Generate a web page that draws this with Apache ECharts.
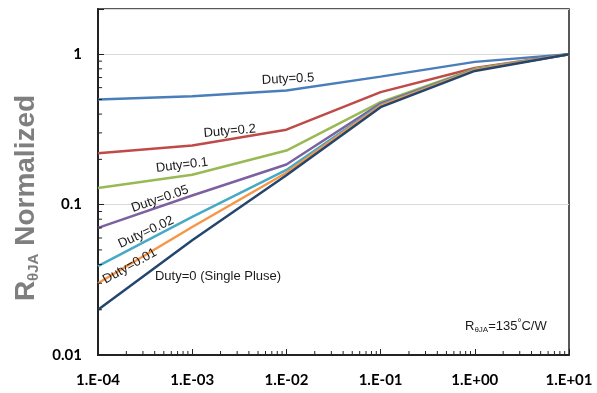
<!DOCTYPE html>
<html>
<head>
<meta charset="utf-8">
<script src="https://cdn.jsdelivr.net/npm/echarts@6/dist/echarts.min.js"></script>
<style>
  html, body { margin: 0; padding: 0; background: #ffffff; }
  #chart { width: 597px; height: 393px; }
</style>
</head>
<body>
<div id="chart"></div>
<script>
// Pulse width (s), one point per decade
const pulseWidth = [1e-4, 1e-3, 1e-2, 1e-1, 1, 10];

// Normalized transient thermal resistance for each duty cycle
const duty050 = [0.50, 0.525, 0.575, 0.71, 0.89, 1.0];
const duty020 = [0.22, 0.247, 0.315, 0.56, 0.81, 1.0];
const duty010 = [0.129, 0.158, 0.229, 0.48, 0.80, 1.0];
const duty005 = [0.070, 0.115, 0.185, 0.47, 0.79, 1.0];
const duty002 = [0.039, 0.083, 0.170, 0.46, 0.79, 1.0];
const duty001 = [0.030, 0.071, 0.163, 0.455, 0.785, 1.0];
const singlePulse = [0.020, 0.058, 0.157, 0.445, 0.775, 1.0];

const seriesNames = ['Duty=0.5', 'Duty=0.2', 'Duty=0.1', 'Duty=0.05', 'Duty=0.02', 'Duty=0.01', 'Duty=0 (Single Pluse)'];
const seriesValues = [duty050, duty020, duty010, duty005, duty002, duty001, singlePulse];

// Axis tick labels
const xTickValues = [1e-4, 1e-3, 1e-2, 1e-1, 1, 10];
const xTickLabels = ['1.E-04', '1.E-03', '1.E-02', '1.E-01', '1.E+00', '1.E+01'];
const yTickValues = [0.01, 0.1, 1];
const yTickLabels = ['0.01', '0.1', '1'];

// Line colours
const colors = ['#4A7EBB', '#BE4B48', '#98B954', '#7D60A0', '#46AAC5', '#F79646', '#24466E'];

// Where each curve's name sits (data coordinates) and its slant in degrees
const curveLabels = [
  { x: 0.0104, y: 0.684, rotate: 3 },
  { x: 0.0025, y: 0.308, rotate: 5 },
  { x: 7.8e-4, y: 0.183, rotate: 7 },
  { x: 4.55e-4, y: 0.109, rotate: 19 },
  { x: 3.24e-4, y: 0.0655, rotate: 25 },
  { x: 2.18e-4, y: 0.039, rotate: 29 },
  { x: 1.88e-3, y: 0.0334, rotate: 0 }
];

const X_MIN = 1e-4, X_MAX = 10, Y_MIN = 0.01, Y_MAX = 2;

function pickLabel(values, labels) {
  return function (v) {
    for (let i = 0; i < values.length; i++) {
      if (Math.abs(Math.log10(v) - Math.log10(values[i])) < 1e-6) return labels[i];
    }
    return '';
  };
}

// Minor log ticks at 2..9 of each decade
const minorX = [];
for (let e = -4; e < 1; e++) for (let m = 2; m <= 9; m++) minorX.push(m * Math.pow(10, e));
const minorY = [];
for (let e = -2; e < 0; e++) for (let m = 2; m <= 9; m++) minorY.push(m * Math.pow(10, e));

const labelFont = 'Liberation Sans, Arial, sans-serif';
const tickFont = 'Lato, Liberation Sans, sans-serif';

const lineSeries = seriesNames.map(function (name, i) {
  return {
    name: name,
    type: 'line',
    symbol: 'none',
    silent: true,
    lineStyle: { color: colors[i], width: 2.5 },
    itemStyle: { color: colors[i] },
    data: pulseWidth.map(function (x, j) { return [x, seriesValues[i][j]]; }),
    markPoint: {
      silent: true,
      symbol: 'circle',
      symbolSize: 0,
      data: [{ coord: [curveLabels[i].x, curveLabels[i].y] }],
      label: {
        show: true,
        position: 'inside',
        formatter: name,
        rotate: curveLabels[i].rotate,
        color: '#1a1a1a',
        fontFamily: labelFont,
        fontSize: 13
      }
    },
    z: 3
  };
});

const tickSeries = [
  {
    type: 'custom',
    silent: true,
    clip: false,
    z: 5,
    data: minorX.map(function (v) { return [v, Y_MIN]; }),
    renderItem: function (params, api) {
      const p = api.coord([api.value(0), Y_MIN]);
      return { type: 'line', shape: { x1: p[0], y1: p[1], x2: p[0], y2: p[1] - 4 },
               style: { stroke: '#222', lineWidth: 1 } };
    }
  },
  {
    type: 'custom',
    silent: true,
    clip: false,
    z: 5,
    data: minorY.map(function (v) { return [X_MIN, v]; }),
    renderItem: function (params, api) {
      const p = api.coord([X_MIN, api.value(1)]);
      return { type: 'line', shape: { x1: p[0], y1: p[1], x2: p[0] + 4, y2: p[1] },
               style: { stroke: '#222', lineWidth: 1 } };
    }
  }
];

const chart = echarts.init(document.getElementById('chart'), null, { renderer: 'canvas' });
chart.setOption({
  animation: false,
  backgroundColor: '#ffffff',
  grid: {
    left: 98, right: 28, top: 9, bottom: 38,
    show: true, borderColor: '#222', borderWidth: 1.5, backgroundColor: 'transparent'
  },
  xAxis: {
    type: 'log',
    logBase: 10,
    min: X_MIN,
    max: X_MAX,
    axisLine: { show: true, lineStyle: { color: '#222', width: 2 } },
    axisTick: { show: true, inside: true, length: 6, lineStyle: { color: '#222', width: 1 } },
    minorTick: { show: false },
    splitLine: { show: false },
    axisLabel: {
      formatter: pickLabel(xTickValues, xTickLabels),
      color: '#000', fontFamily: tickFont, fontWeight: 'bold', fontSize: 15, margin: 18
    }
  },
  yAxis: {
    type: 'log',
    logBase: 10,
    min: Y_MIN,
    max: Y_MAX,
    axisLine: { show: true, lineStyle: { color: '#222', width: 2 } },
    axisTick: { show: true, inside: true, length: 6, lineStyle: { color: '#222', width: 1 } },
    minorTick: { show: false },
    splitLine: { show: true, lineStyle: { color: '#d9d9d9', width: 1 } },
    axisLabel: {
      formatter: pickLabel(yTickValues, yTickLabels),
      color: '#000', fontFamily: tickFont, fontWeight: 'bold', fontSize: 15, margin: 16
    },
    name: '{r|R}{s|θJA}{r| Normalized}',
    nameLocation: 'middle',
    nameGap: 57,
    nameTextStyle: {
      padding: [0, 32, 0, 0],
      rich: {
        r: { fontFamily: labelFont, fontWeight: 'bold', fontSize: 28, color: '#7f7f7f', lineHeight: 30 },
        s: { fontFamily: labelFont, fontWeight: 'bold', fontSize: 15, color: '#7f7f7f', lineHeight: 14, verticalAlign: 'bottom' }
      }
    }
  },
  graphic: [{
    type: 'text',
    left: 465,
    top: 318,
    silent: true,
    style: {
      text: '{r|R}{s|θJA}{r|=135}{u|°}{r|C/W}',
      rich: {
        r: { fontFamily: labelFont, fontSize: 13, fill: '#1a1a1a', lineHeight: 16 },
        s: { fontFamily: labelFont, fontSize: 8, fill: '#1a1a1a', lineHeight: 9, verticalAlign: 'bottom' },
        u: { fontFamily: labelFont, fontSize: 10, fill: '#1a1a1a', lineHeight: 10, verticalAlign: 'top' }
      }
    }
  }],
  series: lineSeries.concat(tickSeries)
});
</script>
</body>
</html>
